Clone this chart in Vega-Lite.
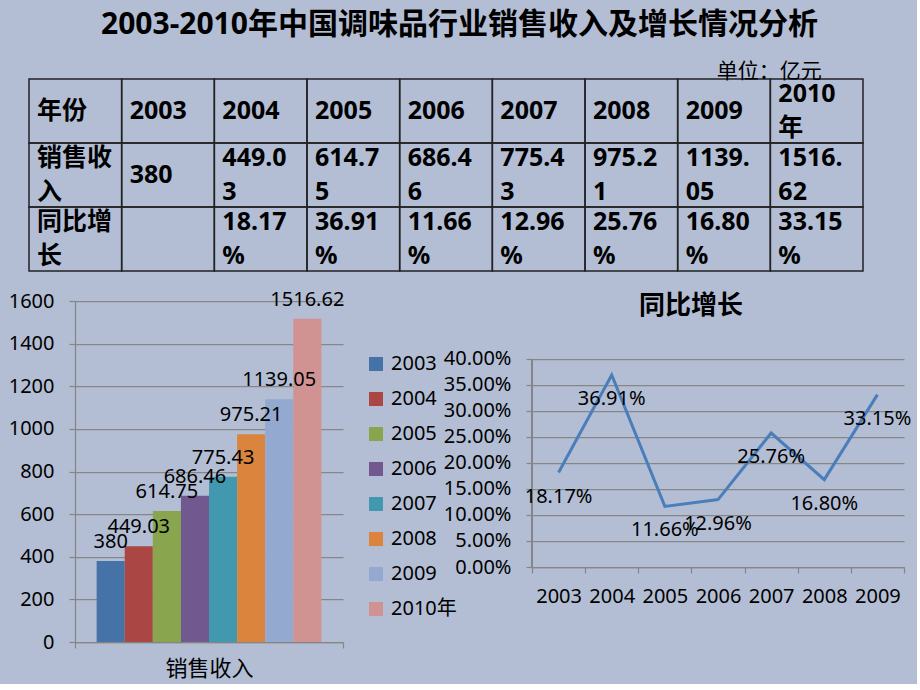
{
  "$schema": "https://vega.github.io/schema/vega-lite/v6.json",
  "background": "#b3bed4",
  "padding": {"left": 8, "top": 10, "right": 5, "bottom": 5},
  "title": {"text": "2003-2010年中国调味品行业销售收入及增长情况分析", "fontSize": 30, "fontWeight": "bold", "anchor": "start", "frame": "group", "dx": 26, "offset": 21, "color": "#000000"},
  "datasets": {
    "table": [
      {"r": 0, "c": 0, "t": "年份"}, {"r": 0, "c": 1, "t": "2003"}, {"r": 0, "c": 2, "t": "2004"}, {"r": 0, "c": 3, "t": "2005"}, {"r": 0, "c": 4, "t": "2006"}, {"r": 0, "c": 5, "t": "2007"}, {"r": 0, "c": 6, "t": "2008"}, {"r": 0, "c": 7, "t": "2009"}, {"r": 0, "c": 8, "t": "2010\n年"},
      {"r": 1, "c": 0, "t": "销售收\n入"}, {"r": 1, "c": 1, "t": "380"}, {"r": 1, "c": 2, "t": "449.0\n3"}, {"r": 1, "c": 3, "t": "614.7\n5"}, {"r": 1, "c": 4, "t": "686.4\n6"}, {"r": 1, "c": 5, "t": "775.4\n3"}, {"r": 1, "c": 6, "t": "975.2\n1"}, {"r": 1, "c": 7, "t": "1139.\n05"}, {"r": 1, "c": 8, "t": "1516.\n62"},
      {"r": 2, "c": 0, "t": "同比增\n长"}, {"r": 2, "c": 1, "t": ""}, {"r": 2, "c": 2, "t": "18.17\n%"}, {"r": 2, "c": 3, "t": "36.91\n%"}, {"r": 2, "c": 4, "t": "11.66\n%"}, {"r": 2, "c": 5, "t": "12.96\n%"}, {"r": 2, "c": 6, "t": "25.76\n%"}, {"r": 2, "c": 7, "t": "16.80\n%"}, {"r": 2, "c": 8, "t": "33.15\n%"}
    ],
    "sales": [
      {"cat": "销售收入", "year": "2003", "v": 380},
      {"cat": "销售收入", "year": "2004", "v": 449.03},
      {"cat": "销售收入", "year": "2005", "v": 614.75},
      {"cat": "销售收入", "year": "2006", "v": 686.46},
      {"cat": "销售收入", "year": "2007", "v": 775.43},
      {"cat": "销售收入", "year": "2008", "v": 975.21},
      {"cat": "销售收入", "year": "2009", "v": 1139.05},
      {"cat": "销售收入", "year": "2010年", "v": 1516.62}
    ],
    "growth": [
      {"year": "2003", "g": 0.1817},
      {"year": "2004", "g": 0.3691},
      {"year": "2005", "g": 0.1166},
      {"year": "2006", "g": 0.1296},
      {"year": "2007", "g": 0.2576},
      {"year": "2008", "g": 0.1680},
      {"year": "2009", "g": 0.3315}
    ]
  },
  "columns": 1,
  "align": "none",
  "spacing": 17,
  "concat": [
    {
      "width": 788,
      "height": 192,
      "data": {"name": "table"},
      "title": {"text": "单位：亿元", "anchor": "end", "dx": -42, "offset": -4, "fontSize": 21, "fontWeight": "normal", "color": "#000000"},
      "encoding": {
        "x": {"field": "c", "type": "ordinal", "axis": null, "scale": {"paddingInner": 0, "paddingOuter": 0, "range": [-46, 788]}},
        "y": {"field": "r", "type": "ordinal", "axis": null, "scale": {"paddingInner": 0, "paddingOuter": 0}}
      },
      "layer": [
        {"mark": {"type": "rect", "fill": "transparent", "stroke": "#222222", "strokeWidth": 1.5}},
        {
          "transform": [{"filter": "indexof(datum.t, '\\n') < 0"}],
          "mark": {"type": "text", "align": "left", "baseline": "middle", "dx": 8, "fontSize": 25, "fontWeight": "bold", "color": "#000000"},
          "encoding": {
            "x": {"field": "c", "type": "ordinal", "bandPosition": 0},
            "text": {"field": "t", "type": "nominal"}
          }
        },
        {
          "transform": [{"filter": "indexof(datum.t, '\\n') >= 0"}],
          "mark": {"type": "text", "align": "left", "baseline": "middle", "dx": 8, "dy": -17, "lineBreak": "\n", "lineHeight": 34, "fontSize": 25, "fontWeight": "bold", "color": "#000000"},
          "encoding": {
            "x": {"field": "c", "type": "ordinal", "bandPosition": 0},
            "text": {"field": "t", "type": "nominal"}
          }
        }
      ]
    },
    {
      "columns": 2,
      "align": "none",
      "spacing": -14,
      "resolve": {"scale": {"color": "independent"}, "legend": {"color": "independent"}},
      "concat": [
        {
          "width": 268,
          "height": 341,
          "data": {"name": "sales"},
          "encoding": {
            "x": {"field": "cat", "type": "nominal", "title": null, "scale": {"paddingInner": 0, "paddingOuter": 0}, "axis": {"labelAngle": 0, "labelFontSize": 22, "tickBand": "extent", "ticks": true, "tickSize": 6, "labelPadding": 10, "grid": false}},
            "xOffset": {"field": "year", "type": "nominal", "scale": {"paddingInner": 0, "paddingOuter": 0.77}},
            "y": {"field": "v", "type": "quantitative", "scale": {"domain": [0, 1600]}, "axis": {"values": [0, 200, 400, 600, 800, 1000, 1200, 1400, 1600], "format": "d", "title": null, "grid": true, "tickSize": 6, "labelPadding": 15}}
          },
          "layer": [
            {
              "mark": {"type": "bar"},
              "encoding": {
                "color": {
                  "field": "year", "type": "nominal",
                  "scale": {"domain": ["2003", "2004", "2005", "2006", "2007", "2008", "2009", "2010年"], "range": ["#4572A7", "#AA4643", "#89A54E", "#71588F", "#4198AF", "#DB843D", "#93A9CF", "#D19392"]},
                  "legend": {"orient": "none", "legendX": 291, "legendY": 53, "title": null, "symbolType": "square", "symbolSize": 196, "labelFontSize": 20, "rowPadding": 15, "labelOffset": 5, "symbolStrokeWidth": 0, "padding": 0, "labelColor": "#000000", "symbolOpacity": 1}
                }
              }
            },
            {
              "mark": {"type": "text", "baseline": "bottom", "dy": -9, "fontSize": 20, "color": "#000000"},
              "encoding": {"text": {"field": "v", "type": "nominal"}}
            }
          ]
        },
        {
          "width": 372,
          "height": 266,
          "data": {"name": "growth"},
          "title": {"text": "同比增长", "fontSize": 26, "fontWeight": "bold", "offset": -18, "anchor": "middle", "frame": "group", "dx": -27, "color": "#000000"},
          "encoding": {
            "x": {"field": "year", "type": "nominal", "title": null, "scale": {"paddingInner": 0, "paddingOuter": 0}, "axis": {"labelAngle": 0, "tickBand": "extent", "tickSize": 6, "labelPadding": 13, "grid": false}},
            "y": {"field": "g", "type": "quantitative", "scale": {"domain": [0, 0.5115], "nice": false}, "axis": {"values": [0, 0.05, 0.1, 0.15, 0.2, 0.25, 0.3, 0.35, 0.4], "format": ".2%", "title": null, "grid": true, "domain": false, "tickSize": 6, "labelPadding": 15}}
          },
          "layer": [
            {
              "mark": {"type": "rule", "color": "#868686", "strokeWidth": 1.25},
              "encoding": {
                "x": {"datum": "2003", "type": "nominal", "bandPosition": 0},
                "y": {"datum": 0, "type": "quantitative"},
                "y2": {"datum": 0.4}
              }
            },
            {"mark": {"type": "line", "color": "#4A7EBB", "strokeWidth": 3}},
            {
              "mark": {"type": "text", "baseline": "middle", "dy": 24, "fontSize": 20, "color": "#000000"},
              "encoding": {"text": {"field": "g", "type": "quantitative", "format": ".2%"}}
            }
          ]
        }
      ]
    }
  ],
  "config": {
    "font": "Noto Sans, Noto Sans CJK SC",
    "view": {"stroke": null},
    "axis": {"labelColor": "#000000", "labelFontSize": 20, "gridColor": "#868686", "gridWidth": 1.25, "domainColor": "#868686", "domainWidth": 1.25, "tickColor": "#868686", "tickWidth": 1.25}
  }
}
